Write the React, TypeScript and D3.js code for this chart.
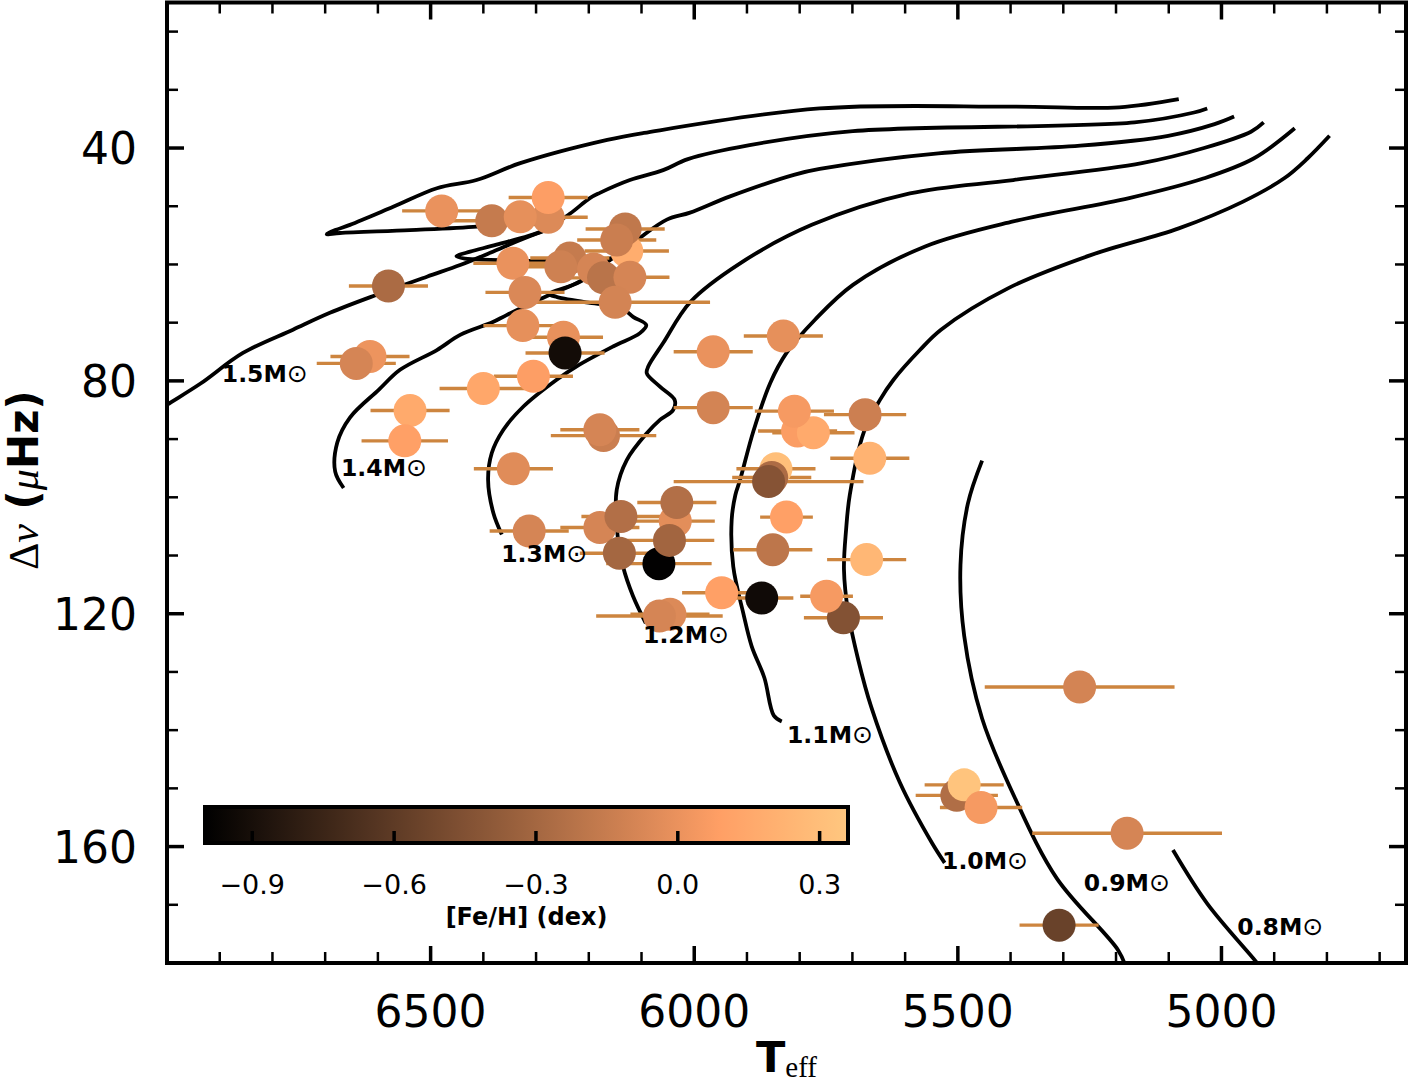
import React from 'react';
import * as d3 from 'd3';

// observed stars
const teff = [6479, 6384, 6277, 6330, 6277, 6128, 6131, 6147, 6344, 6236, 6253, 6191, 6172, 6122, 6580, 6321, 6150, 6325, 6248, 6245, 6305, 6400, 6615, 6641, 6539, 6549, 6172, 6179, 6343, 5964, 5964, 5831, 5804, 5774, 5810, 5676, 5667, 5845, 5853, 5859, 5825, 5851, 5673, 5717, 5749, 5872, 5948, 6313, 6179, 6139, 6036, 6033, 6067, 6047, 6142, 6046, 6066, 5269, 5502, 5488, 5456, 5179, 5308];
const dnu = [50.8, 52.5, 51.9, 51.8, 48.5, 57.7, 53.9, 55.8, 59.8, 58.9, 60.4, 60.8, 62.3, 62.2, 63.7, 64.8, 66.5, 70.5, 72.5, 75.2, 79.2, 81.3, 75.8, 77.0, 85.1, 90.3, 89.4, 88.4, 95.1, 84.6, 75.0, 72.3, 88.6, 88.9, 85.2, 85.8, 93.3, 95.1, 96.6, 97.3, 103.4, 109.0, 110.7, 120.7, 117.0, 117.3, 116.4, 105.8, 105.2, 103.3, 104.1, 100.9, 111.4, 107.4, 109.6, 120.1, 120.4, 132.6, 151.2, 149.4, 153.3, 157.7, 173.5];
const teffErr = [75, 75, 75, 75, 75, 80, 75, 75, 75, 75, 75, 75, 75, 75, 75, 75, 180, 75, 75, 75, 75, 83, 75, 75, 75, 82, 100, 75, 75, 75, 75, 75, 75, 78, 75, 78, 75, 75, 75, 180, 50, 75, 75, 75, 50, 60, 75, 75, 75, 75, 75, 75, 100, 85, 75, 75, 120, 180, 78, 75, 78, 180, 75];
const feh = [0.0, -0.16, -0.06, -0.02, 0.08, 0.18, -0.18, -0.14, 0.0, -0.16, -0.12, -0.09, -0.21, -0.09, -0.27, -0.07, -0.1, -0.02, -0.01, -0.92, 0.08, 0.14, 0.01, -0.09, 0.16, 0.09, -0.14, -0.09, -0.045, -0.1, 0.0, -0.02, 0.07, 0.16, 0.05, -0.13, 0.225, 0.306, -0.26, -0.43, 0.09, -0.195, 0.25, -0.44, 0.05, -0.93, 0.09, -0.09, -0.09, -0.24, -0.03, -0.24, -0.99, -0.31, -0.3, -0.06, -0.09, -0.1, -0.25, 0.34, 0.05, -0.09, -0.55];

// evolutionary tracks, [Teff, dnu]
const track15 = [[7032, 86.0], [7000, 84.1], [6937, 80.5], [6856, 75.2], [6761, 71.2], [6691, 68.3], [6602, 65.2], [6507, 62.1], [6444, 60.1], [6387, 58.0], [6330, 55.8], [6277, 53.9], [6266, 53.4], [6311, 53.0], [6349, 52.9], [6412, 53.5], [6539, 54.1], [6672, 54.6], [6697, 54.8], [6681, 54.1], [6653, 53.2], [6571, 50.1], [6488, 46.9], [6413, 45.5], [6330, 42.6], [6165, 38.6], [6095, 37.4], [5762, 33.2], [5395, 32.9], [5194, 33.0], [5081, 31.6]];
const track14 = [[6665, 98.4], [6681, 95.6], [6677, 90.6], [6653, 86.3], [6598, 81.5], [6558, 78.1], [6488, 74.7], [6444, 72.1], [6382, 69.9], [6356, 68.7], [6274, 65.2], [6217, 62.9], [6166, 59.6], [6156, 59.0], [6188, 59.3], [6293, 59.4], [6387, 59.2], [6435, 59.0], [6451, 58.6], [6425, 57.8], [6375, 56.6], [6287, 54.2], [6236, 51.3], [6198, 48.6], [6179, 47.7], [6122, 45.5], [6059, 43.8], [6012, 41.9], [5895, 39.5], [5699, 37.1], [5165, 35.6], [5052, 33.9], [5027, 33.2]];
const track13 = [[6365, 106.4], [6381, 102.7], [6391, 97.0], [6384, 92.4], [6362, 88.4], [6324, 84.4], [6261, 79.8], [6223, 77.5], [6154, 74.1], [6103, 71.8], [6091, 70.4], [6116, 69.0], [6141, 67.3], [6198, 66.6], [6260, 65.6], [6275, 65.1], [6217, 63.0], [6166, 59.6], [6109, 55.8], [6052, 52.3], [6008, 51.1], [5932, 48.3], [5811, 44.6], [5762, 43.6], [5537, 40.9], [5268, 39.6], [5101, 37.9], [5013, 35.9], [4976, 34.6]];
const track12 = [[6092, 121.6], [6116, 117.0], [6135, 111.9], [6147, 105.0], [6147, 98.7], [6128, 93.6], [6090, 89.0], [6065, 86.7], [6040, 85.0], [6037, 83.3], [6065, 81.0], [6090, 78.7], [6087, 77.5], [6059, 73.5], [6007, 66.4], [5913, 59.8], [5777, 53.2], [5591, 47.8], [5395, 45.5], [5151, 42.6], [5033, 40.0], [4944, 37.2], [4920, 35.6]];
const track11 = [[5834, 138.5], [5849, 137.5], [5867, 131.0], [5891, 125.6], [5907, 119.9], [5926, 111.9], [5929, 103.9], [5922, 99.6], [5913, 97.0], [5888, 88.7], [5856, 80.4], [5825, 75.2], [5771, 69.5], [5699, 63.5], [5562, 56.9], [5395, 52.6], [5175, 48.6], [5033, 45.2], [4939, 41.8], [4861, 36.6]];
const track10 = [[5525, 162.8], [5549, 159.4], [5610, 149.0], [5664, 136.1], [5689, 127.9], [5708, 119.8], [5716, 112.4], [5712, 105.6], [5705, 99.6], [5678, 88.7], [5648, 83.3], [5622, 79.8], [5572, 74.7], [5532, 71.2], [5405, 64.1], [5248, 58.4], [5081, 53.8], [4959, 49.2], [4881, 45.2], [4837, 41.8], [4795, 37.9]];
const track09 = [[5181, 180.8], [5196, 177.8], [5312, 165.5], [5393, 151.4], [5454, 138.0], [5488, 123.8], [5495, 111.6], [5481, 101.1], [5454, 93.7]];
const track08 = [[4923, 181.1], [4936, 179.6], [5027, 169.8], [5092, 160.6]];
const tracks = [track15, track14, track13, track12, track11, track10, track09, track08];

const massLabels = ['1.5', '1.4', '1.3', '1.2', '1.1', '1.0', '0.9', '0.8'];
const labelTeff = [6896, 6670, 6366, 6097, 5824, 5530, 5261, 4970];
const labelDnu = [78.8, 94.9, 109.7, 123.5, 140.7, 162.4, 166.2, 173.7];

const xMajor = [6500, 6000, 5500, 5000];
const yMajor = [40, 80, 120, 160];
const cbTicks = [-0.9, -0.6, -0.3, 0.0, 0.3];

const W = 1410;
const H = 1082;
const left = 167;
const right = 1406;
const top = 2.5;
const bottom = 963;

const copper = (t: number) => {
  const n = Math.max(0, Math.min(1, t));
  return d3.rgb(Math.min(1, 1.25 * n) * 255, 0.7812 * n * 255, 0.4975 * n * 255).formatHex();
};

const fmt = (v: number) => (v < 0 ? '\u2212' + Math.abs(v).toFixed(1) : v.toFixed(1));

const App: React.FC = () => {
  const x = d3.scaleLinear().domain([7000, 4650]).range([left, right]);
  const y = d3.scaleLinear().domain([15, 180]).range([top, bottom]);
  const fehNorm = d3.scaleLinear().domain([-1.0, 0.36]).range([0, 1]);

  const line = d3
    .line<number[]>()
    .x((d) => x(d[0]))
    .y((d) => y(d[1]))
    .curve(d3.curveCatmullRom.alpha(0.5));

  const xMinor = d3.range(4700, 7000, 100).filter((v) => !xMajor.includes(v));
  const yMinor = d3.range(20, 180, 10).filter((v) => !yMajor.includes(v));

  // colorbar inset
  const cb = { x0: 205, x1: 848, y0: 807, y1: 843 };
  const cbx = d3.scaleLinear().domain([-1.0, 0.36]).range([cb.x0, cb.x1]);
  const stops = d3.range(0, 1.0001, 0.05);

  const font = 'DejaVu Sans, sans-serif';
  const serif = 'Liberation Serif, DejaVu Serif, serif';

  return (
    <svg
      width={W}
      height={H}
      style={{ position: 'absolute', left: 0, top: 0, background: 'white' }}
    >
      <defs>
        <clipPath id="plot">
          <rect x={left} y={top} width={right - left} height={bottom - top} />
        </clipPath>
        <linearGradient id="copper" x1="0" x2="1" y1="0" y2="0">
          {stops.map((s) => (
            <stop key={s} offset={s} stopColor={copper(s)} />
          ))}
        </linearGradient>
      </defs>

      <g clipPath="url(#plot)">
        {tracks.map((t, i) => (
          <path key={i} d={line(t) || ''} fill="none" stroke="black" strokeWidth={3.8} strokeLinejoin="round" />
        ))}
        {teff.map((t, i) => (
          <line
            key={'e' + i}
            x1={x(t - teffErr[i])}
            x2={x(t + teffErr[i])}
            y1={y(dnu[i])}
            y2={y(dnu[i])}
            stroke="#cd853f"
            strokeWidth={3.4}
          />
        ))}
        {teff.map((t, i) => (
          <circle key={'c' + i} cx={x(t)} cy={y(dnu[i])} r={16.5} fill={copper(fehNorm(feh[i]))} />
        ))}
      </g>

      {massLabels.map((m, i) => (
        <text
          key={m}
          x={x(labelTeff[i])}
          y={y(labelDnu[i]) + 8.5}
          fontFamily={font}
          fontWeight="bold"
          fontSize={23.5}
        >
          {m}M
          <tspan fontWeight="normal" fontSize={25}>⊙</tspan>
        </text>
      ))}

      {/* colorbar */}
      <rect x={cb.x0} y={cb.y0} width={cb.x1 - cb.x0} height={cb.y1 - cb.y0} fill="url(#copper)" stroke="black" strokeWidth={4} />
      {cbTicks.map((v) => (
        <g key={v}>
          <line x1={cbx(v)} x2={cbx(v)} y1={cb.y1} y2={cb.y1 - 12} stroke="black" strokeWidth={3.5} />
          <text x={cbx(v)} y={894} textAnchor="middle" fontFamily={font} fontSize={27}>
            {fmt(v)}
          </text>
        </g>
      ))}
      <text x={(cb.x0 + cb.x1) / 2} y={925} textAnchor="middle" fontFamily={font} fontWeight="bold" fontSize={24}>
        [Fe/H] (dex)
      </text>

      {/* ticks */}
      {xMajor.map((v) => (
        <g key={'xm' + v}>
          <line x1={x(v)} x2={x(v)} y1={bottom} y2={bottom - 17} stroke="black" strokeWidth={3.5} />
          <line x1={x(v)} x2={x(v)} y1={top} y2={top + 17} stroke="black" strokeWidth={3.5} />
          <text x={x(v)} y={1027} textAnchor="middle" fontFamily={font} fontSize={44}>
            {v}
          </text>
        </g>
      ))}
      {xMinor.map((v) => (
        <g key={'xn' + v}>
          <line x1={x(v)} x2={x(v)} y1={bottom} y2={bottom - 11} stroke="black" strokeWidth={2.5} />
          <line x1={x(v)} x2={x(v)} y1={top} y2={top + 11} stroke="black" strokeWidth={2.5} />
        </g>
      ))}
      {yMajor.map((v) => (
        <g key={'ym' + v}>
          <line x1={left} x2={left + 17} y1={y(v)} y2={y(v)} stroke="black" strokeWidth={3.5} />
          <line x1={right} x2={right - 17} y1={y(v)} y2={y(v)} stroke="black" strokeWidth={3.5} />
          <text x={137} y={y(v) + 16} textAnchor="end" fontFamily={font} fontSize={44}>
            {v}
          </text>
        </g>
      ))}
      {yMinor.map((v) => (
        <g key={'yn' + v}>
          <line x1={left} x2={left + 11} y1={y(v)} y2={y(v)} stroke="black" strokeWidth={2.5} />
          <line x1={right} x2={right - 11} y1={y(v)} y2={y(v)} stroke="black" strokeWidth={2.5} />
        </g>
      ))}

      <rect x={left} y={top} width={right - left} height={bottom - top} fill="none" stroke="black" strokeWidth={4} />

      {/* axis labels */}
      <text x={(left + right) / 2} y={1072} textAnchor="middle" fontSize={43}>
        <tspan fontFamily={font} fontWeight="bold">T</tspan>
        <tspan fontFamily={serif} fontSize={29} dy={5}>eff</tspan>
      </text>
      <text transform={`translate(38, 480) rotate(-90)`} textAnchor="middle" fontSize={42}>
        <tspan fontFamily={serif}>Δ</tspan>
        <tspan fontFamily={serif} fontStyle="italic">ν</tspan>
        <tspan fontFamily={font} fontWeight="bold"> (</tspan>
        <tspan fontFamily={serif} fontStyle="italic">μ</tspan>
        <tspan fontFamily={font} fontWeight="bold">Hz)</tspan>
      </text>
    </svg>
  );
};

export default App;
